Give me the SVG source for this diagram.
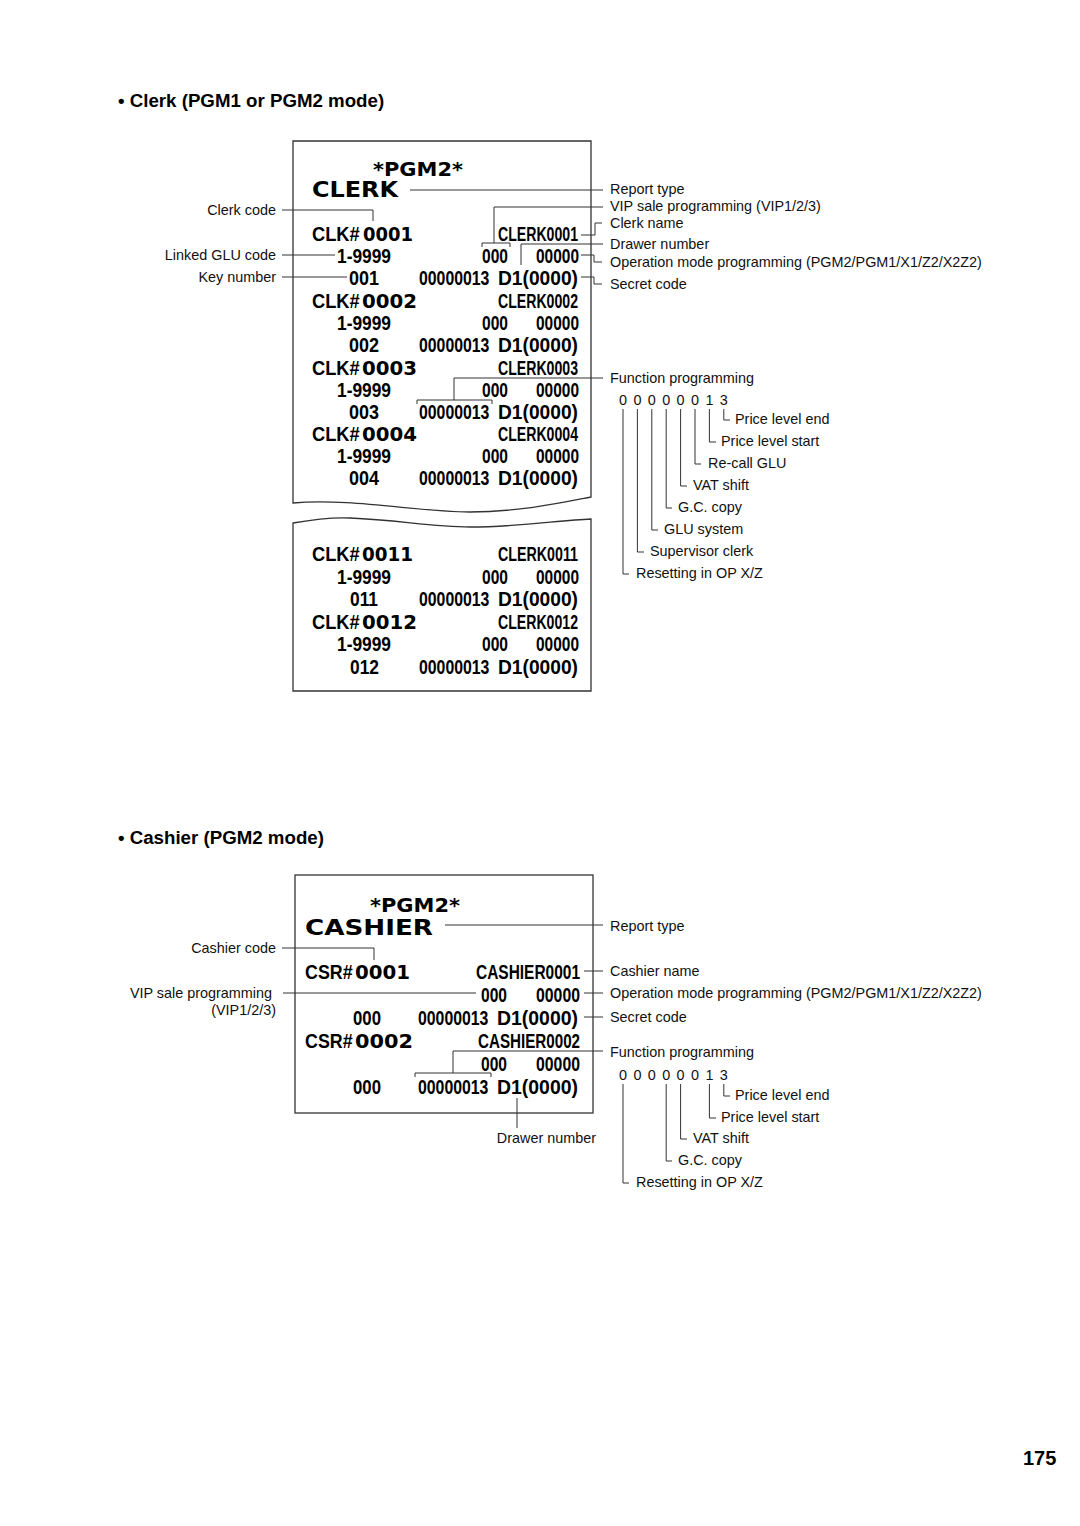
<svg xmlns="http://www.w3.org/2000/svg" width="1080" height="1526" viewBox="0 0 1080 1526">
<style>
.lbl{font-family:"Liberation Sans",Arial,sans-serif;font-size:14.4px;fill:#111}
.end{text-anchor:end}
.ttl{font-family:"Liberation Sans",Arial,sans-serif;font-size:18.7px;font-weight:bold;fill:#000}
.rn{font-family:"Liberation Sans",Arial,sans-serif;font-size:21px;font-weight:bold;fill:#000}
.rw{font-family:"DejaVu Sans",sans-serif;font-size:20px;font-weight:bold;fill:#000}
.paper{fill:#fff;stroke:#333;stroke-width:1.3}
.cn{fill:none;stroke:#333;stroke-width:1}
</style>
<rect width="1080" height="1526" fill="#fff"/>

<g id="title-clerk"><text class="ttl" x="118" y="107">• Clerk (PGM1 or PGM2 mode)</text></g>
<g id="title-cashier"><text class="ttl" x="118" y="844">• Cashier (PGM2 mode)</text></g>
<g id="page-number"><text class="ttl" x="1023" y="1465" style="font-size:20px">175</text></g>

<!-- Clerk receipt -->
<g id="receipt-clerk-top">
<path class="paper" d="M293,141 H591 V497 C565,502 520,512 470,512 C420,512 350,498 293,503 Z"/>
<text class="rw" x="373" y="176" textLength="90" lengthAdjust="spacingAndGlyphs" style="font-size:19px">*PGM2*</text>
<text class="rw" x="312" y="197" textLength="86" lengthAdjust="spacingAndGlyphs" style="font-size:21px">CLERK</text>
<text class="rn" transform="translate(312,241) scale(0.87,1)">CLK#</text>
<text class="rw" x="363" y="241" textLength="50" lengthAdjust="spacingAndGlyphs">0001</text>
<text class="rn" x="498" y="241" textLength="80" lengthAdjust="spacingAndGlyphs">CLERK0001</text>
<text class="rn" x="337" y="263" textLength="54" lengthAdjust="spacingAndGlyphs">1-9999</text>
<text class="rn" y="263"><tspan x="482" textLength="26" lengthAdjust="spacingAndGlyphs">000</tspan><tspan x="536" textLength="43" lengthAdjust="spacingAndGlyphs">00000</tspan></text>
<text class="rn" x="349" y="285" textLength="30" lengthAdjust="spacingAndGlyphs">001</text>
<text class="rn" transform="translate(419,285) scale(0.754,1)">00000013</text>
<text class="rn" x="498" y="285" textLength="80" lengthAdjust="spacingAndGlyphs">D1(0000)</text>

<text class="rn" transform="translate(312,308) scale(0.87,1)">CLK#</text>
<text class="rw" x="362" y="308" textLength="55" lengthAdjust="spacingAndGlyphs">0002</text>
<text class="rn" x="498" y="308" textLength="80" lengthAdjust="spacingAndGlyphs">CLERK0002</text>
<text class="rn" x="337" y="330" textLength="54" lengthAdjust="spacingAndGlyphs">1-9999</text>
<text class="rn" y="330"><tspan x="482" textLength="26" lengthAdjust="spacingAndGlyphs">000</tspan><tspan x="536" textLength="43" lengthAdjust="spacingAndGlyphs">00000</tspan></text>
<text class="rn" x="349" y="352" textLength="30" lengthAdjust="spacingAndGlyphs">002</text>
<text class="rn" transform="translate(419,352) scale(0.754,1)">00000013</text>
<text class="rn" x="498" y="352" textLength="80" lengthAdjust="spacingAndGlyphs">D1(0000)</text>

<text class="rn" transform="translate(312,375) scale(0.87,1)">CLK#</text>
<text class="rw" x="362" y="375" textLength="55" lengthAdjust="spacingAndGlyphs">0003</text>
<text class="rn" x="498" y="375" textLength="80" lengthAdjust="spacingAndGlyphs">CLERK0003</text>
<text class="rn" x="337" y="397" textLength="54" lengthAdjust="spacingAndGlyphs">1-9999</text>
<text class="rn" y="397"><tspan x="482" textLength="26" lengthAdjust="spacingAndGlyphs">000</tspan><tspan x="536" textLength="43" lengthAdjust="spacingAndGlyphs">00000</tspan></text>
<text class="rn" x="349" y="419" textLength="30" lengthAdjust="spacingAndGlyphs">003</text>
<text class="rn" transform="translate(419,419) scale(0.754,1)">00000013</text>
<text class="rn" x="498" y="419" textLength="80" lengthAdjust="spacingAndGlyphs">D1(0000)</text>

<text class="rn" transform="translate(312,441) scale(0.87,1)">CLK#</text>
<text class="rw" x="362" y="441" textLength="55" lengthAdjust="spacingAndGlyphs">0004</text>
<text class="rn" x="498" y="441" textLength="80" lengthAdjust="spacingAndGlyphs">CLERK0004</text>
<text class="rn" x="337" y="463" textLength="54" lengthAdjust="spacingAndGlyphs">1-9999</text>
<text class="rn" y="463"><tspan x="482" textLength="26" lengthAdjust="spacingAndGlyphs">000</tspan><tspan x="536" textLength="43" lengthAdjust="spacingAndGlyphs">00000</tspan></text>
<text class="rn" x="349" y="485" textLength="30" lengthAdjust="spacingAndGlyphs">004</text>
<text class="rn" transform="translate(419,485) scale(0.754,1)">00000013</text>
<text class="rn" x="498" y="485" textLength="80" lengthAdjust="spacingAndGlyphs">D1(0000)</text>
</g>

<g id="receipt-clerk-bottom">
<path class="paper" d="M293,523 C310,520 330,517 350,518 C400,520 430,527 470,527 C520,527 560,520 591,519 V691 H293 Z"/>
<text class="rn" transform="translate(312,561) scale(0.87,1)">CLK#</text>
<text class="rw" x="362" y="561" textLength="51" lengthAdjust="spacingAndGlyphs">0011</text>
<text class="rn" x="498" y="561" textLength="80" lengthAdjust="spacingAndGlyphs">CLERK0011</text>
<text class="rn" x="337" y="584" textLength="54" lengthAdjust="spacingAndGlyphs">1-9999</text>
<text class="rn" y="584"><tspan x="482" textLength="26" lengthAdjust="spacingAndGlyphs">000</tspan><tspan x="536" textLength="43" lengthAdjust="spacingAndGlyphs">00000</tspan></text>
<text class="rn" x="350" y="606" textLength="28" lengthAdjust="spacingAndGlyphs">011</text>
<text class="rn" transform="translate(419,606) scale(0.754,1)">00000013</text>
<text class="rn" x="498" y="606" textLength="80" lengthAdjust="spacingAndGlyphs">D1(0000)</text>
<text class="rn" transform="translate(312,629) scale(0.87,1)">CLK#</text>
<text class="rw" x="362" y="629" textLength="55" lengthAdjust="spacingAndGlyphs">0012</text>
<text class="rn" x="498" y="629" textLength="80" lengthAdjust="spacingAndGlyphs">CLERK0012</text>
<text class="rn" x="337" y="651" textLength="54" lengthAdjust="spacingAndGlyphs">1-9999</text>
<text class="rn" y="651"><tspan x="482" textLength="26" lengthAdjust="spacingAndGlyphs">000</tspan><tspan x="536" textLength="43" lengthAdjust="spacingAndGlyphs">00000</tspan></text>
<text class="rn" x="350" y="674" textLength="29" lengthAdjust="spacingAndGlyphs">012</text>
<text class="rn" transform="translate(419,674) scale(0.754,1)">00000013</text>
<text class="rn" x="498" y="674" textLength="80" lengthAdjust="spacingAndGlyphs">D1(0000)</text>
</g>

<!-- Cashier receipt -->
<g id="receipt-cashier">
<rect class="paper" x="295" y="875" width="298" height="238"/>
<text class="rw" x="370" y="912" textLength="90" lengthAdjust="spacingAndGlyphs" style="font-size:19px">*PGM2*</text>
<text class="rw" x="305" y="935" textLength="128" lengthAdjust="spacingAndGlyphs" style="font-size:21px">CASHIER</text>
<text class="rn" transform="translate(305,979) scale(0.85,1)">CSR#</text>
<text class="rw" x="355" y="979" textLength="55" lengthAdjust="spacingAndGlyphs">0001</text>
<text class="rn" x="476" y="979" textLength="104" lengthAdjust="spacingAndGlyphs">CASHIER0001</text>
<text class="rn" y="1002"><tspan x="481" textLength="26" lengthAdjust="spacingAndGlyphs">000</tspan><tspan x="536" textLength="44" lengthAdjust="spacingAndGlyphs">00000</tspan></text>
<text class="rn" x="353" y="1025" textLength="28" lengthAdjust="spacingAndGlyphs">000</text>
<text class="rn" transform="translate(418,1025) scale(0.754,1)">00000013</text>
<text class="rn" x="497" y="1025" textLength="81" lengthAdjust="spacingAndGlyphs">D1(0000)</text>
<text class="rn" transform="translate(305,1048) scale(0.85,1)">CSR#</text>
<text class="rw" x="355" y="1048" textLength="58" lengthAdjust="spacingAndGlyphs">0002</text>
<text class="rn" x="478" y="1048" textLength="102" lengthAdjust="spacingAndGlyphs">CASHIER0002</text>
<text class="rn" y="1071"><tspan x="481" textLength="26" lengthAdjust="spacingAndGlyphs">000</tspan><tspan x="536" textLength="44" lengthAdjust="spacingAndGlyphs">00000</tspan></text>
<text class="rn" x="353" y="1094" textLength="28" lengthAdjust="spacingAndGlyphs">000</text>
<text class="rn" transform="translate(418,1094) scale(0.754,1)">00000013</text>
<text class="rn" x="497" y="1094" textLength="81" lengthAdjust="spacingAndGlyphs">D1(0000)</text>
</g>

<!-- Clerk labels -->
<g id="lbl-clerk-code"><text class="lbl end" x="276" y="215">Clerk code</text></g>
<g id="lbl-linked-glu"><text class="lbl end" x="276" y="260">Linked GLU code</text></g>
<g id="lbl-key-number"><text class="lbl end" x="276" y="282">Key number</text></g>
<g id="lbl-report-type-1"><text class="lbl" x="610" y="194">Report type</text></g>
<g id="lbl-vip-1"><text class="lbl" x="610" y="211">VIP sale programming (VIP1/2/3)</text></g>
<g id="lbl-clerk-name"><text class="lbl" x="610" y="228">Clerk name</text></g>
<g id="lbl-drawer-1"><text class="lbl" x="610" y="249">Drawer number</text></g>
<g id="lbl-opmode-1"><text class="lbl" x="610" y="267">Operation mode programming (PGM2/PGM1/X1/Z2/X2Z2)</text></g>
<g id="lbl-secret-1"><text class="lbl" x="610" y="289">Secret code</text></g>
<g id="lbl-func-1"><text class="lbl" x="610" y="383">Function programming</text></g>
<g id="lbl-digits-1"><text class="lbl" x="619" y="405" style="letter-spacing:1.2px">0 0 0 0 0 0 1 3</text></g>
<g id="lbl-ple-1"><text class="lbl" x="735" y="424">Price level end</text></g>
<g id="lbl-pls-1"><text class="lbl" x="721" y="446">Price level start</text></g>
<g id="lbl-recall-glu"><text class="lbl" x="708" y="468">Re-call GLU</text></g>
<g id="lbl-vat-1"><text class="lbl" x="693" y="490">VAT shift</text></g>
<g id="lbl-gc-1"><text class="lbl" x="678" y="512">G.C. copy</text></g>
<g id="lbl-glu-system"><text class="lbl" x="664" y="534">GLU system</text></g>
<g id="lbl-supervisor"><text class="lbl" x="650" y="556">Supervisor clerk</text></g>
<g id="lbl-reset-1"><text class="lbl" x="636" y="578">Resetting in OP X/Z</text></g>

<!-- Cashier labels -->
<g id="lbl-cashier-code"><text class="lbl end" x="276" y="953">Cashier code</text></g>
<g id="lbl-vip-2"><text class="lbl end" x="272" y="998">VIP sale programming</text><text class="lbl end" x="276" y="1015">(VIP1/2/3)</text></g>
<g id="lbl-drawer-2"><text class="lbl end" x="596" y="1143">Drawer number</text></g>
<g id="lbl-report-type-2"><text class="lbl" x="610" y="931">Report type</text></g>
<g id="lbl-cashier-name"><text class="lbl" x="610" y="976">Cashier name</text></g>
<g id="lbl-opmode-2"><text class="lbl" x="610" y="998">Operation mode programming (PGM2/PGM1/X1/Z2/X2Z2)</text></g>
<g id="lbl-secret-2"><text class="lbl" x="610" y="1022">Secret code</text></g>
<g id="lbl-func-2"><text class="lbl" x="610" y="1057">Function programming</text></g>
<g id="lbl-digits-2"><text class="lbl" x="619" y="1080" style="letter-spacing:1.2px">0 0 0 0 0 0 1 3</text></g>
<g id="lbl-ple-2"><text class="lbl" x="735" y="1100">Price level end</text></g>
<g id="lbl-pls-2"><text class="lbl" x="721" y="1122">Price level start</text></g>
<g id="lbl-vat-2"><text class="lbl" x="693" y="1143">VAT shift</text></g>
<g id="lbl-gc-2"><text class="lbl" x="678" y="1165">G.C. copy</text></g>
<g id="lbl-reset-2"><text class="lbl" x="636" y="1187">Resetting in OP X/Z</text></g>

<g id="connectors" class="cn">
<path d="M410,190 H603"/>
<path d="M482,247 V243 H510 V247 M494,243 V207 H603"/>
<path d="M581,235 H595 V223 H602"/>
<path d="M521,265 V244 H603"/>
<path d="M581,255 H594 V262 H602"/>
<path d="M581,277 H594 V284 H602"/>
<path d="M282,210 H373 V221"/>
<path d="M282,255 H335"/>
<path d="M282,277 H347"/>
<path d="M417,404 V400 H492 V404 M454,400 V378 H603"/>
<path d="M723.8,409 V420 H730"/>
<path d="M709.4,409 V442 H716"/>
<path d="M695,409 V464 H701"/>
<path d="M680.6,409 V486 H687"/>
<path d="M666.2,409 V508 H672"/>
<path d="M651.8,409 V530 H658"/>
<path d="M637.4,409 V552 H644"/>
<path d="M623,409 V574 H629"/>

<path d="M445,925 H603"/>
<path d="M584,971 H603"/>
<path d="M584,993 H603"/>
<path d="M584,1017 H603"/>
<path d="M415,1077 V1073 H491 V1077 M453,1073 V1051 H603"/>
<path d="M282,948 H374 V960"/>
<path d="M283,993 H476"/>
<path d="M517,1098 V1128"/>
<path d="M723.8,1084 V1096 H730"/>
<path d="M709.4,1084 V1118 H716"/>
<path d="M680.6,1084 V1139 H687"/>
<path d="M666.2,1084 V1161 H672"/>
<path d="M623,1084 V1183 H629"/>
</g>
</svg>
